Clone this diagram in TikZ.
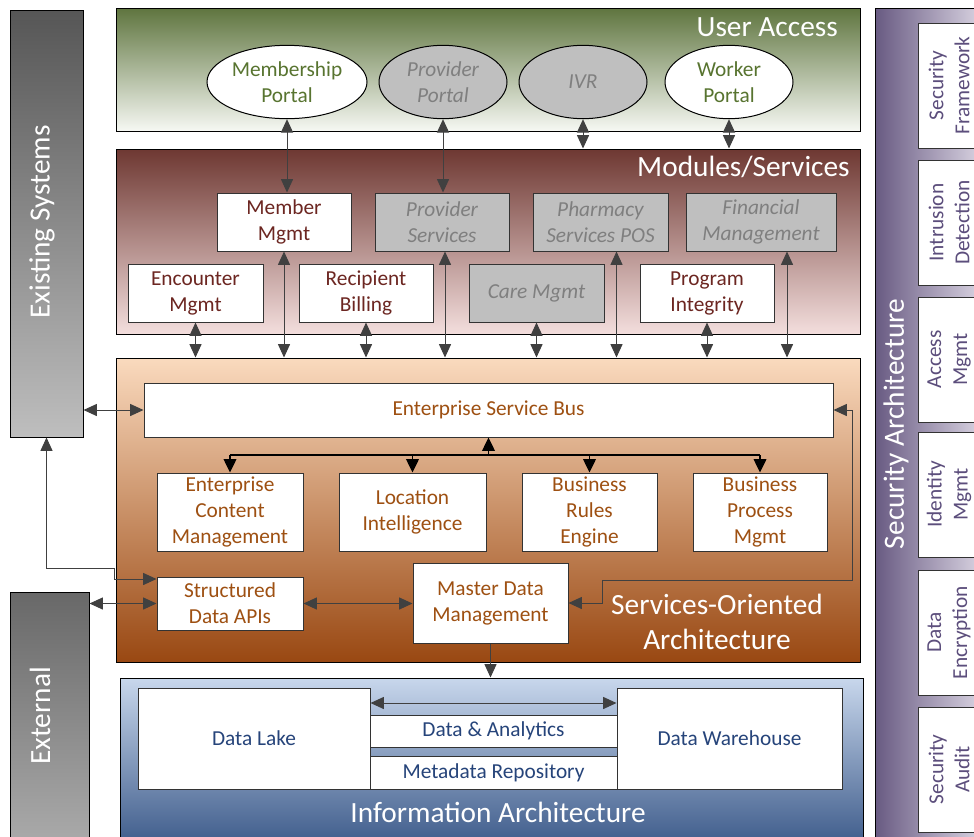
\documentclass[tikz,border=0pt]{standalone}
\usepackage{fontspec}
\setmainfont{Carlito}
\usetikzlibrary{arrows.meta,fit,shapes.geometric}

\definecolor{uagreen}{RGB}{95,117,63}
\definecolor{uawhite}{RGB}{246,248,243}
\definecolor{portaltext}{RGB}{88,116,48}
\definecolor{modtop}{RGB}{110,56,50}
\definecolor{modbot}{RGB}{243,222,221}
\definecolor{modtext}{RGB}{108,38,33}
\definecolor{soatop}{RGB}{250,218,190}
\definecolor{soabot}{RGB}{153,72,18}
\definecolor{soatext}{RGB}{158,80,18}
\definecolor{infotop}{RGB}{200,215,236}
\definecolor{infobot}{RGB}{58,88,136}
\definecolor{infotext}{RGB}{38,68,122}
\definecolor{secleft}{RGB}{104,90,130}
\definecolor{secright}{RGB}{226,221,233}
\definecolor{sectext}{RGB}{92,78,124}
\definecolor{extop}{RGB}{86,86,86}
\definecolor{exbot}{RGB}{190,190,190}
\definecolor{outtop}{RGB}{104,104,104}
\definecolor{outbot}{RGB}{172,172,172}
\definecolor{offfill}{RGB}{191,191,191}
\definecolor{offtext}{RGB}{127,127,127}
\definecolor{linkgray}{RGB}{64,64,64}

\begin{document}
\begin{tikzpicture}[x=0.75pt,y=0.75pt,yscale=-1,xscale=1,
  band/.style={draw=black, line width=0.75pt, inner sep=0pt},
  plainbox/.style={draw=black!80, fill=white, line width=0.75pt, inner sep=0pt, align=center, font=\fontsize{16}{19.5}\selectfont},
  modbox/.style={plainbox, text=modtext, minimum width=100.5pt, minimum height=43.5pt},
  offbox/.style={modbox, fill=offfill, text=offtext, font=\fontsize{16}{19.5}\selectfont\itshape},
  soabox/.style={plainbox, text=soatext, minimum width=109.5pt, minimum height=58.5pt},
  infobox/.style={plainbox, text=infotext},
  secbox/.style={plainbox, text=sectext, rotate=90, minimum width=93.75pt, minimum height=46.5pt},
  portal/.style={ellipse, draw=black, fill=white, line width=0.75pt, inner sep=0pt, align=center, minimum width=96pt, minimum height=55pt, text=portaltext, font=\fontsize{16}{19.5}\selectfont},
  offportal/.style={portal, fill=offfill, text=offtext, font=\fontsize{16}{19.5}\selectfont\itshape},
  bandtitle/.style={text=white, inner sep=0pt, align=center, font=\fontsize{22}{26}\selectfont},
  link/.style={draw=linkgray, line width=0.75pt, >={Triangle[length=10pt,width=9pt]}, <->},
  feed/.style={link, ->},
  bus/.style={draw=black, line width=1pt, >={Triangle[length=10pt,width=9.5pt]}, ->}]
\useasboundingbox (0,0) rectangle (974,836);
\clip (0,0) rectangle (974,836);

%Shape: Rectangle [existing systems]
\node[band, fit={(10,10) (83,437)}, top color=extop, bottom color=exbot] (exist) {};
\node[bandtitle, rotate=90] (existlbl) at (42,222) {Existing Systems};
%Shape: Rectangle [external]
\node[band, fit={(10,592) (89,850)}, top color=outtop, bottom color=outbot] (ext) {};
\node[bandtitle, rotate=90] (extlbl) at (40,716) {External};
%Shape: Rectangle [security architecture]
\node[band, fit={(875,8) (990,850)}, left color=secleft, right color=secright] (sec) {};
\node[bandtitle, rotate=90] (seclbl) at (896,424) {Security Architecture};

%Shape: Rectangle [user access]
\node[band, fit={(116,8) (860,131)}, top color=uagreen, bottom color=uawhite] (ua) {};
\node[bandtitle, anchor=east] (ualbl) at (838,27) {User Access};
%Shape: Rectangle [modules]
\node[band, fit={(116,149) (860,334)}, top color=modtop, bottom color=modbot] (mods) {};
\node[bandtitle, anchor=east] (modslbl) at (850,167) {Modules/Services};
%Shape: Rectangle [soa]
\node[band, fit={(116,358) (860,662)}, top color=soatop, bottom color=soabot] (soa) {};
\node[bandtitle] (soalbl) at (717,622) {Services-Oriented\\Architecture};
%Shape: Rectangle [information]
\node[band, fit={(120,678) (863,850)}, top color=infotop, bottom color=infobot] (info) {};
\node[bandtitle] (infolbl) at (498,812) {Information Architecture};

%Shape: Ellipse
\node[portal, minimum width=120pt] (mport) at (287,82) {Membership\\Portal};
\node[offportal] (pport) at (443,82) {Provider\\Portal};
\node[offportal] (ivr) at (583,82) {IVR};
\node[portal] (wport) at (729,82) {Worker\\Portal};

%Shape: Rectangle [modules]
\node[modbox] (mem) at (284,222) {Member\\Mgmt};
\node[offbox] (prov) at (442,222) {Provider\\Services};
\node[offbox, minimum width=101.25pt] (pharm) at (600.5,222) {Pharmacy\\Services POS};
\node[offbox, minimum width=112.5pt] (fin) at (761,222) {Financial\\Management};
\node[modbox, minimum width=101.25pt] (enc) at (195.5,293) {Encounter\\Mgmt};
\node[modbox] (rec) at (366,293) {Recipient\\Billing};
\node[offbox, minimum width=101.25pt] (care) at (536.5,293) {Care Mgmt};
\node[modbox] (prog) at (707,293) {Program\\Integrity};

%Shape: Rectangle [soa]
\node[soabox, minimum width=516.75pt, minimum height=40.5pt] (esb) at (488.5,410) {Enterprise Service Bus};
\node[soabox] (ecm) at (230,512) {Enterprise\\Content\\Management};
\node[soabox, minimum width=110.25pt] (loc) at (412.5,512) {Location\\Intelligence};
\node[soabox, minimum width=101.25pt] (bre) at (589.5,512) {Business\\Rules\\Engine};
\node[soabox, minimum width=100.5pt] (bpm) at (760,512) {Business\\Process\\Mgmt};
\node[soabox, minimum height=39.75pt] (sda) at (230,603.5) {Structured\\Data APIs};
\node[soabox, minimum width=116.25pt, minimum height=60pt] (mdm) at (490.5,603) {Master Data\\Management};

%Shape: Rectangle [information]
\node[infobox, minimum width=174pt, minimum height=75.75pt] (lake) at (254,738.5) {Data Lake};
\node[infobox, minimum width=168.75pt, minimum height=75.75pt] (dw) at (729.5,738.5) {Data Warehouse};
\node[infobox, minimum width=185.25pt, minimum height=24pt] (dna) at (493.5,731) {Data \& Analytics};
\node[infobox, minimum width=185.25pt, minimum height=24.75pt] (meta) at (493.5,772.5) {Metadata Repository};

%Shape: Rectangle [security]
\node[secbox] (secfw) at (949,85.5) {Security\\Framework};
\node[secbox] (secid) at (949,222.5) {Intrusion\\Detection};
\node[secbox] (secam) at (949,359.5) {Access\\Mgmt};
\node[secbox] (secim) at (949,494.5) {Identity\\Mgmt};
\node[secbox] (secde) at (949,632.5) {Data\\Encryption};
\node[secbox] (secau) at (949,769.5) {Security\\Audit};

%Straight Lines [portals]
\draw[link] (mport.south) -- (mport.south |- mem.north);
\draw[link] (pport.south) -- (pport.south |- prov.north);
\draw[link] (ivr.south) -- (ivr.south |- mods.north);
\draw[link] (wport.south) -- (wport.south |- mods.north);

%Straight Lines [modules to soa]
\draw[link] (enc.south) -- (enc.south |- soa.north);
\draw[link] (mem.south) -- (mem.south |- soa.north);
\draw[link] (rec.south) -- (rec.south |- soa.north);
\draw[link] ([xshift=2.25pt]prov.south) -- ([xshift=2.25pt]prov.south |- soa.north);
\draw[link] (care.south) -- (care.south |- soa.north);
\draw[link] ([xshift=12pt]pharm.south) -- ([xshift=12pt]pharm.south |- soa.north);
\draw[link] (prog.south) -- (prog.south |- soa.north);
\draw[link] ([xshift=19.5pt]fin.south) -- ([xshift=19.5pt]fin.south |- soa.north);

%Straight Lines [bus]
\draw[draw=black, line width=1pt] (ecm.north |- 0,455) -- (bpm.north |- 0,455);
\draw[bus] (esb.south |- 0,455) -- (esb.south);
\draw[bus] (ecm.north |- 0,455) -- (ecm.north);
\draw[bus] (loc.north |- 0,455) -- (loc.north);
\draw[bus] (bre.north |- 0,455) -- (bre.north);
\draw[bus] (bpm.north |- 0,455) -- (bpm.north);

%Straight Lines [soa links]
\draw[link] (exist.east |- esb.west) -- (esb.west);
\draw[link] (exist.south) |- (114,568) |- (sda.west |- 0,579);
\draw[link] (ext.east |- sda.west) -- (sda.west);
\draw[link] (sda.east) -- (mdm.west |- sda.east);
\draw[link] (mdm.east) -| (602,580) -| (852,410) -- (esb.east);
\draw[feed] (mdm.south) -- (mdm.south |- info.north);

%Straight Lines [information]
\draw[link] (lake.east |- 0,703) -- (dw.west |- 0,703);

\end{tikzpicture}
\end{document}
